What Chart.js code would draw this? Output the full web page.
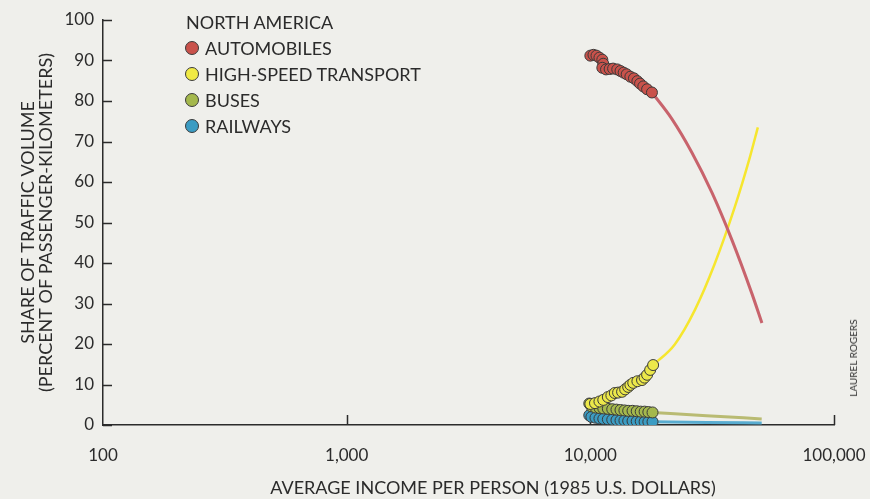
<!DOCTYPE html>
<html>
<head>
<meta charset="utf-8">
<script src="https://cdn.jsdelivr.net/npm/chart.js@4.4.1/dist/chart.umd.min.js"></script>
<style>
  html, body { margin: 0; padding: 0; background: #efefeb; }
  #wrap { position: relative; width: 870px; height: 499px; font-family: Lato, "Open Sans", sans-serif; color: #2b2b2b; }
  #chart { position: absolute; left: 0; top: 0; }
  .legend { position: absolute; left: 186px; top: 9px; font-size: 18px; line-height: 26px; }
  .legend .row { display: flex; align-items: center; height: 26px; }
  .legend .dot { width: 12px; height: 12px; border-radius: 50%; border: 1px solid #3a3a3a; margin-right: 6px; margin-left: -1px; }
  .xtitle { position: absolute; left: 0; width: 986px; top: 476px; text-align: center; font-size: 18px; }
  .credit { position: absolute; left: 853px; top: 358px; font-size: 10px; transform: translate(-50%, -50%) rotate(-90deg); white-space: nowrap; }
</style>
</head>
<body>
<div id="wrap">
  <canvas id="chart" width="870" height="499"></canvas>
  <div class="legend">
    <div class="row">NORTH AMERICA</div>
    <div class="row"><span class="dot" style="background:#c9524b"></span>AUTOMOBILES</div>
    <div class="row"><span class="dot" style="background:#f0ea45"></span>HIGH-SPEED TRANSPORT</div>
    <div class="row"><span class="dot" style="background:#a4b84c"></span>BUSES</div>
    <div class="row"><span class="dot" style="background:#3b9cc3"></span>RAILWAYS</div>
  </div>
  <div class="xtitle">AVERAGE INCOME PER PERSON (1985 U.S. DOLLARS)</div>
  <div class="credit">LAUREL ROGERS</div>
</div>
<script>
// axis ticks
const xTicks = [100, 1000, 10000, 100000];
const yTicks = [0, 10, 20, 30, 40, 50, 60, 70, 80, 90, 100];

// observed data (income in 1985 US$, share in %)
const autoIncome = [10000, 10300, 10600, 10900, 11200, 11300, 11200, 11600, 12000, 12400, 12900, 13300, 13700, 14100, 14600, 15100, 15600, 16000, 16500, 17100, 17900];
const autoShare  = [91.2, 91.4, 91.2, 90.7, 90.2, 89.2, 88.2, 87.8, 87.9, 88.0, 87.8, 87.4, 87.0, 86.6, 86.0, 85.6, 84.9, 84.3, 83.6, 82.9, 82.1];

const hstIncome = [10000, 10450, 10900, 11300, 11800, 12200, 12600, 13000, 13500, 13900, 14300, 14600, 15000, 15600, 16300, 16700, 17100, 17600, 18100];
const hstShare  = [5.2, 5.4, 5.8, 6.2, 6.9, 7.3, 7.9, 8.0, 8.2, 8.8, 9.4, 9.9, 10.4, 10.8, 11.1, 11.7, 12.4, 13.6, 14.8];

const busIncome = [9900, 10100, 10500, 10900, 11300, 11800, 12300, 12800, 13300, 13800, 14300, 14900, 15500, 16100, 16700, 17300, 18000];
const busShare  = [5.3, 4.6, 4.3, 4.2, 4.1, 4.0, 3.9, 3.8, 3.7, 3.6, 3.5, 3.5, 3.4, 3.3, 3.3, 3.2, 3.1];

const railIncome = [9900, 10100, 10500, 10900, 11300, 11800, 12300, 12800, 13300, 13800, 14300, 14900, 15500, 16100, 16700, 17300, 18000];
const railShare  = [2.4, 2.0, 1.8, 1.6, 1.5, 1.4, 1.3, 1.2, 1.1, 1.1, 1.0, 1.0, 0.9, 0.9, 0.8, 0.8, 0.8];

// projections
const autoProjIncome = [17900, 21600, 26100, 31600, 38100, 46000, 50600];
const autoProjShare  = [82.1, 75.6, 67.3, 57.3, 45.7, 32.5, 25.2];
const hstProjIncome  = [18100, 22200, 26900, 32400, 39200, 45200, 48700];
const hstProjShare   = [14.8, 19.9, 28.5, 39.8, 53.9, 66.2, 73.5];
const busProjIncome  = [18000, 30000, 50500];
const busProjShare   = [3.1, 2.3, 1.5];
const railProjIncome = [18000, 30000, 50500];
const railProjShare  = [0.8, 0.6, 0.5];

const pts = (xs, ys) => xs.map((x, i) => ({ x, y: ys[i] }));

function scatterSet(label, xs, ys, color) {
    return {
        type: 'scatter',
        label,
        data: pts(xs, ys),
        backgroundColor: color,
        borderColor: '#3a3a3a',
        borderWidth: 1,
        pointRadius: 5.5
    };
}

function projSet(label, xs, ys, color, width) {
    return {
        type: 'line',
        label,
        data: pts(xs, ys),
        borderColor: color,
        borderWidth: width,
        pointRadius: 0,
        cubicInterpolationMode: 'monotone',
        fill: false
    };
}

// small tick marks drawn inward from the axes
const innerTicks = {
    id: 'innerTicks',
    beforeDatasetsDraw(chart) {
        const { ctx, scales: { x, y } } = chart;
        ctx.save();
        ctx.strokeStyle = '#2b2b2b';
        ctx.lineWidth = 1.5;
        ctx.beginPath();
        yTicks.forEach(v => {
            const py = Math.round(y.getPixelForValue(v)) + 0.5;
            ctx.moveTo(x.left, py);
            ctx.lineTo(x.left + 9, py);
        });
        xTicks.slice(1).forEach(v => {
            const px = Math.round(x.getPixelForValue(v)) + 0.5;
            ctx.moveTo(px, y.bottom);
            ctx.lineTo(px, y.bottom - 10);
        });
        ctx.stroke();
        ctx.restore();
    }
};

const tickFont = { family: 'Lato, "Open Sans", sans-serif', size: 17 };

new Chart(document.getElementById('chart'), {
    type: 'scatter',
    data: {
        datasets: [
            scatterSet('AUTOMOBILES', autoIncome, autoShare, '#c9524b'),
            scatterSet('HIGH-SPEED TRANSPORT', hstIncome, hstShare, '#ece84a'),
            scatterSet('BUSES', busIncome, busShare, '#a4b84c'),
            scatterSet('RAILWAYS', railIncome, railShare, '#3b9cc3'),
            projSet('AUTOMOBILES (projected)', autoProjIncome, autoProjShare, '#c8636c', 3),
            projSet('HIGH-SPEED (projected)', hstProjIncome, hstProjShare, '#f6e62e', 2.5),
            projSet('BUSES (projected)', busProjIncome, busProjShare, '#b9bb72', 3),
            projSet('RAILWAYS (projected)', railProjIncome, railProjShare, '#58acd0', 3)
        ]
    },
    options: {
        responsive: false,
        animation: false,
        layout: { padding: { left: 0, top: 20, right: 36, bottom: 0 } },
        plugins: {
            legend: { display: false },
            tooltip: { enabled: false }
        },
        scales: {
            x: {
                type: 'logarithmic',
                min: 100,
                max: 100000,
                afterBuildTicks: (scale) => { scale.ticks = xTicks.map(v => ({ value: v })); },
                afterFit: (scale) => {
                    scale.height = 74;
                    scale.paddingLeft = 0;
                    scale.paddingRight = 0;
                },
                grid: { display: false, drawTicks: false },
                border: { display: true, color: '#2b2b2b', width: 1.5 },
                ticks: {
                    color: '#2b2b2b',
                    font: tickFont,
                    padding: 20,
                    autoSkip: false,
                    maxRotation: 0,
                    callback: (v) => Number(v).toLocaleString('en-US')
                }
            },
            y: {
                min: 0,
                max: 100,
                afterBuildTicks: (scale) => { scale.ticks = yTicks.map(v => ({ value: v })); },
                afterFit: (scale) => { scale.width = 103; },
                grid: { display: false, drawTicks: false },
                border: { display: true, color: '#2b2b2b', width: 1.5 },
                ticks: { color: '#2b2b2b', font: tickFont, padding: 9 },
                title: {
                    display: true,
                    text: ['SHARE OF TRAFFIC VOLUME', '(PERCENT OF PASSENGER-KILOMETERS)'],
                    color: '#2b2b2b',
                    font: { family: 'Lato, "Open Sans", sans-serif', size: 18, lineHeight: 1.0 },
                    padding: { top: 19, bottom: 0 }
                }
            }
        }
    },
    plugins: [innerTicks]
});
</script>
</body>
</html>
